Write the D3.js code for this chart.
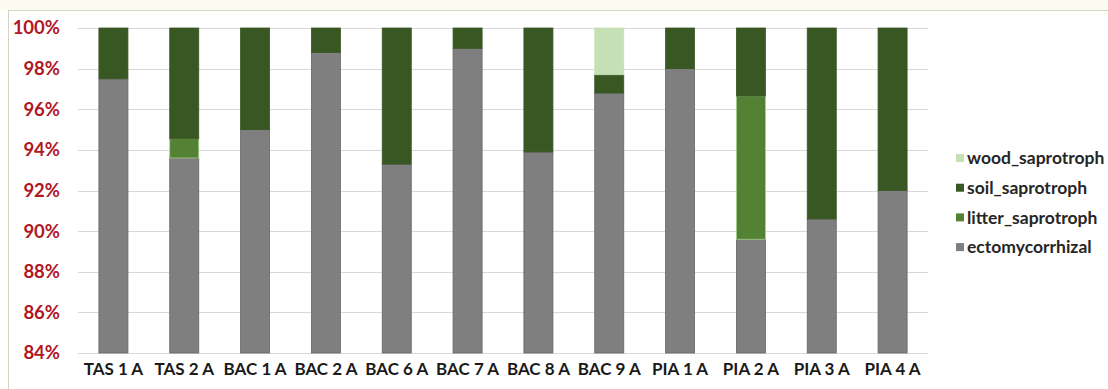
<!DOCTYPE html>
<html>
<head>
<meta charset="utf-8">
<script src="https://cdn.jsdelivr.net/npm/d3@7"></script>
<style>
  html, body { margin: 0; padding: 0; background: #ffffff; }
  svg { display: block; }
</style>
</head>
<body>
<svg id="chart" width="1108" height="389"></svg>
<script>
// Samples along the x axis
const categories = ["TAS 1 A", "TAS 2 A", "BAC 1 A", "BAC 2 A", "BAC 6 A", "BAC 7 A",
                    "BAC 8 A", "BAC 9 A", "PIA 1 A", "PIA 2 A", "PIA 3 A", "PIA 4 A"];

// Relative abundance (%) of each fungal guild per sample
const ectomycorrhizal   = [97.5, 93.6, 95.0, 98.8, 93.3, 99.0, 93.9, 96.8, 98.0, 89.6, 90.6, 92.0];
const litter_saprotroph = [0,    0.95, 0,    0,    0,    0,    0,    0,    0,    7.05, 0,    0];
const soil_saprotroph   = [2.5,  5.45, 5.0,  1.2,  6.7,  1.0,  6.1,  0.9,  2.0,  3.35, 9.4,  8.0];
const wood_saprotroph   = [0,    0,    0,    0,    0,    0,    0,    2.3,  0,    0,    0,    0];

// y-axis ticks
const yTicks = [84, 86, 88, 90, 92, 94, 96, 98, 100];

const seriesNames = ["ectomycorrhizal", "litter_saprotroph", "soil_saprotroph", "wood_saprotroph"];
const seriesValues = [ectomycorrhizal, litter_saprotroph, soil_saprotroph, wood_saprotroph];
const colors = {
  ectomycorrhizal: "#7f7f7f",
  litter_saprotroph: "#548235",
  soil_saprotroph: "#385723",
  wood_saprotroph: "#c5e0b4"
};
const strokes = {
  ectomycorrhizal: "#666666",
  litter_saprotroph: "#a9d08e",
  soil_saprotroph: "#385723",
  wood_saprotroph: "#c5e0b4"
};

const rows = categories.map((c, i) => {
  const r = { cat: c };
  seriesNames.forEach((s, k) => r[s] = seriesValues[k][i]);
  return r;
});

const svg = d3.select("#chart");
const font = "Lato, 'Open Sans', sans-serif";

// chart frame
svg.append("rect").attr("x", 0).attr("y", 0).attr("width", 1108).attr("height", 10)
  .attr("fill", "#fbfbf2");
svg.append("rect").attr("x", 8.5).attr("y", 10.5).attr("width", 1108).attr("height", 400)
  .attr("fill", "#ffffff").attr("stroke", "#d4d4c0").attr("stroke-width", 1);

const x = d3.scaleBand().domain(categories).range([78, 928]).paddingInner(0.59).paddingOuter(0.295);
const y = d3.scaleLinear().domain([84, 100]).range([353, 28]);

// gridlines
svg.append("g").selectAll("line").data(yTicks).join("line")
  .attr("x1", 78).attr("x2", 928)
  .attr("y1", d => Math.round(y(d)) + 0.5).attr("y2", d => Math.round(y(d)) + 0.5)
  .attr("stroke", "#d9d9d9").attr("stroke-width", 1);

// y axis labels
const yAxis = d3.axisLeft(y).tickValues(yTicks).tickSize(0).tickPadding(0)
  .tickFormat(d => d + "%");
const gy = svg.append("g").attr("transform", "translate(60,0)").call(yAxis);
gy.select(".domain").remove();
gy.selectAll("text")
  .attr("fill", "#b0171f")
  .style("font-family", font)
  .style("font-weight", "bold")
  .style("font-size", "18.5px");

// stacked bars
const stack = d3.stack().keys(seriesNames);
const layers = stack(rows);
svg.append("g").selectAll("g").data(layers).join("g")
  .attr("fill", d => colors[d.key])
  .attr("stroke", d => strokes[d.key])
  .attr("stroke-width", 0.8)
  .selectAll("rect").data(d => d.filter(p => p[1] - p[0] > 0)).join("rect")
  .attr("x", d => x(d.data.cat))
  .attr("width", x.bandwidth())
  .attr("y", d => y(Math.min(100, d[1])))
  .attr("height", d => y(Math.max(84, d[0])) - y(Math.min(100, d[1])));

// x axis labels
const xAxis = d3.axisBottom(x).tickSize(0).tickPadding(0);
const gx = svg.append("g").attr("transform", "translate(0,369)").call(xAxis);
gx.select(".domain").remove();
gx.selectAll("text")
  .attr("fill", "#1a1a1a")
  .attr("dy", "0.35em")
  .attr("y", 0)
  .style("font-family", font)
  .style("font-weight", "bold")
  .style("font-size", "17px");

// legend
const legendOrder = ["wood_saprotroph", "soil_saprotroph", "litter_saprotroph", "ectomycorrhizal"];
const leg = svg.append("g").selectAll("g").data(legendOrder).join("g")
  .attr("transform", (d, i) => `translate(956,${158 + i * 29.7})`);
leg.append("rect").attr("x", 0).attr("y", -4).attr("width", 8).attr("height", 8)
  .attr("fill", d => colors[d]);
leg.append("text").attr("x", 11).attr("y", 0).attr("dy", "0.35em")
  .text(d => d)
  .attr("fill", "#262626")
  .style("font-family", font)
  .style("font-weight", "bold")
  .style("font-size", "17.5px");
</script>
</body>
</html>
